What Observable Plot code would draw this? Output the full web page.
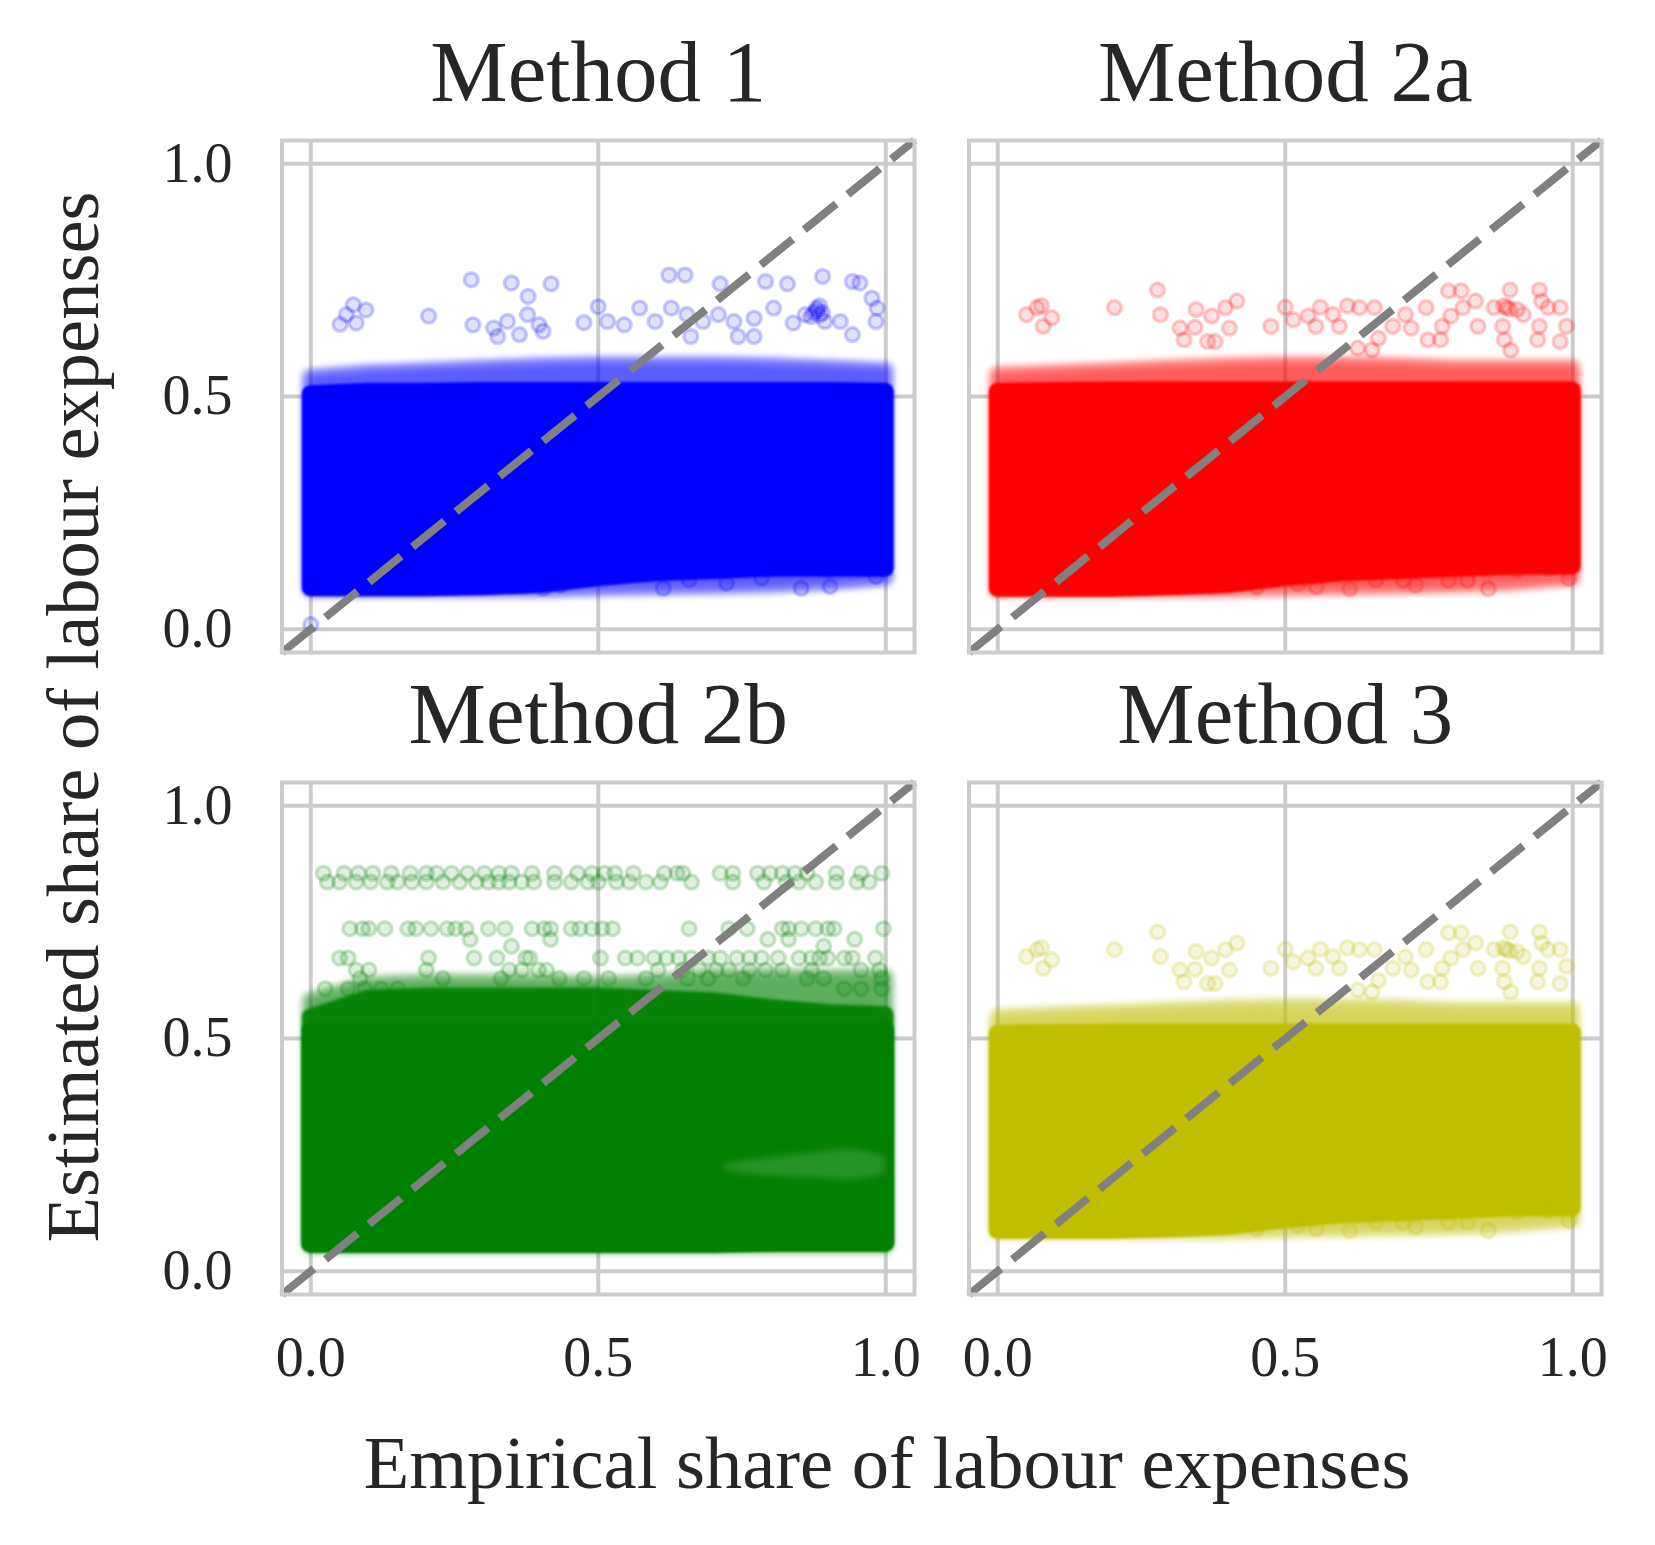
<!DOCTYPE html>
<html>
<head>
<meta charset="utf-8">
<script src="https://cdn.jsdelivr.net/npm/d3@7"></script>
<script src="https://cdn.jsdelivr.net/npm/@observablehq/plot@0.6"></script>
<style>
  html, body { margin: 0; padding: 0; background: #ffffff; }
</style>
</head>
<body>
<div id="chart"></div>
<script>
// ---------------- data ----------------
const titles = ["Method 1", "Method 2a", "Method 2b", "Method 3"];
const colors = ["#0000ff", "#ff0000", "#008000", "#bfbf00"];
const panelCol = [0, 1, 0, 1];
const panelRow = [0, 0, 1, 1];
const tickValues = [0, 0.5, 1];
const xLabel = "Empirical share of labour expenses";
const yLabel = "Estimated share of labour expenses";

// dense cloud envelope (point centres) sampled along the empirical share
const envX = [0, 0.1, 0.2, 0.3, 0.4, 0.5, 0.6, 0.7, 0.8, 0.9, 1.0];

const m1CoreLow    = [0.088, 0.088, 0.088, 0.090, 0.095, 0.110, 0.120, 0.125, 0.130, 0.130, 0.130];
const m1CoreHigh   = [0.505, 0.510, 0.510, 0.512, 0.512, 0.512, 0.512, 0.512, 0.512, 0.512, 0.510];
const m1FringeLow  = [0.085, 0.085, 0.085, 0.085, 0.085, 0.088, 0.090, 0.092, 0.095, 0.100, 0.110];
const m1FringeHigh = [0.540, 0.550, 0.555, 0.560, 0.565, 0.567, 0.567, 0.567, 0.565, 0.560, 0.555];

const m2aCoreLow    = [0.087, 0.087, 0.087, 0.090, 0.095, 0.110, 0.120, 0.125, 0.130, 0.135, 0.135];
const m2aCoreHigh   = [0.510, 0.512, 0.513, 0.513, 0.513, 0.513, 0.513, 0.513, 0.513, 0.513, 0.513];
const m2aFringeLow  = [0.085, 0.085, 0.085, 0.085, 0.085, 0.088, 0.090, 0.092, 0.095, 0.100, 0.110];
const m2aFringeHigh = [0.545, 0.550, 0.555, 0.560, 0.565, 0.567, 0.567, 0.565, 0.560, 0.560, 0.560];

const m2bCoreLow    = [0.058, 0.058, 0.058, 0.058, 0.058, 0.058, 0.058, 0.058, 0.060, 0.060, 0.060];
const m2bCoreHigh   = [0.515, 0.517, 0.517, 0.517, 0.517, 0.517, 0.517, 0.517, 0.517, 0.517, 0.517];
const m2bMidHigh    = [0.545, 0.585, 0.590, 0.590, 0.590, 0.590, 0.585, 0.580, 0.565, 0.555, 0.550];
const m2bFringeLow  = [0.055, 0.055, 0.055, 0.055, 0.055, 0.055, 0.055, 0.055, 0.055, 0.055, 0.055];
const m2bFringeHigh = [0.580, 0.615, 0.620, 0.620, 0.620, 0.615, 0.620, 0.630, 0.630, 0.630, 0.630];
// sparser patch inside the green cloud (lower right)
const m2bSparseX    = [0.72, 0.80, 0.88, 0.94, 1.00];
const m2bSparseLow  = [0.215, 0.205, 0.200, 0.195, 0.210];
const m2bSparseHigh = [0.230, 0.245, 0.255, 0.262, 0.245];

const m3CoreLow    = [0.087, 0.087, 0.087, 0.090, 0.095, 0.110, 0.120, 0.125, 0.130, 0.135, 0.135];
const m3CoreHigh   = [0.510, 0.512, 0.513, 0.513, 0.513, 0.513, 0.513, 0.513, 0.513, 0.513, 0.513];
const m3FringeLow  = [0.085, 0.085, 0.085, 0.085, 0.085, 0.088, 0.090, 0.092, 0.095, 0.100, 0.110];
const m3FringeHigh = [0.545, 0.550, 0.555, 0.560, 0.565, 0.567, 0.567, 0.565, 0.560, 0.560, 0.560];

// isolated points [empirical, estimated]
const m1Outliers = [
  [0.279,0.751],[0.349,0.744],[0.418,0.742],[0.378,0.715],[0.074,0.697],[0.096,0.686],[0.062,0.676],
  [0.051,0.655],[0.079,0.658],[0.205,0.673],[0.282,0.654],[0.318,0.647],[0.342,0.661],[0.325,0.629],
  [0.363,0.633],[0.377,0.676],[0.397,0.654],[0.404,0.640],[0.475,0.659],[0.500,0.693],[0.516,0.661],
  [0.545,0.654],[0.623,0.761],[0.651,0.761],[0.712,0.742],[0.791,0.747],[0.829,0.742],[0.890,0.758],
  [0.942,0.747],[0.955,0.744],[0.572,0.690],[0.599,0.661],[0.627,0.690],[0.654,0.676],[0.682,0.661],
  [0.709,0.676],[0.736,0.661],[0.771,0.668],[0.805,0.690],[0.743,0.629],[0.771,0.629],[0.661,0.629],
  [0.860,0.676],[0.880,0.690],[0.894,0.661],[0.921,0.661],[0.942,0.633],[0.839,0.658],[0.976,0.711],
  [0.983,0.661],[0.875,0.680],[0.885,0.675],[0.880,0.685],[0.890,0.680],[0.870,0.672],[0.885,0.695],
  [0.985,0.690],[0.000,0.010],[0.613,0.088],[0.853,0.088],[0.658,0.106],[0.723,0.099],[0.784,0.110],
  [0.900,0.128],[0.983,0.113],[0.404,0.088],[0.435,0.095],[0.903,0.092]
];

const m2aOutliers = [
  [0.278,0.729],[0.203,0.691],[0.283,0.676],[0.050,0.676],[0.068,0.691],[0.076,0.695],[0.094,0.669],
  [0.079,0.651],[0.345,0.687],[0.372,0.673],[0.396,0.691],[0.416,0.705],[0.317,0.647],[0.343,0.649],
  [0.403,0.647],[0.324,0.622],[0.365,0.618],[0.378,0.618],[0.475,0.651],[0.500,0.692],[0.514,0.665],
  [0.540,0.673],[0.553,0.651],[0.561,0.692],[0.583,0.676],[0.594,0.651],[0.608,0.695],[0.629,0.691],
  [0.655,0.691],[0.662,0.625],[0.626,0.604],[0.651,0.600],[0.687,0.651],[0.709,0.676],[0.719,0.647],
  [0.745,0.691],[0.748,0.622],[0.770,0.622],[0.773,0.651],[0.784,0.727],[0.806,0.727],[0.788,0.673],
  [0.809,0.691],[0.831,0.705],[0.835,0.651],[0.863,0.691],[0.885,0.691],[0.880,0.695],[0.890,0.688],
  [0.903,0.687],[0.891,0.729],[0.942,0.729],[0.946,0.705],[0.957,0.691],[0.978,0.691],[0.878,0.651],
  [0.942,0.651],[0.939,0.622],[0.978,0.618],[0.989,0.651],[0.881,0.622],[0.892,0.600],[0.914,0.676],
  [0.612,0.087],[0.658,0.105],[0.727,0.095],[0.705,0.105],[0.784,0.105],[0.817,0.105],[0.853,0.087],
  [0.903,0.127],[0.993,0.109],[0.957,0.131],[0.554,0.091],[0.522,0.098],[0.450,0.091]
];

const m2bOutliers = [
  // band near 0.855
  [0.022,0.855],[0.058,0.855],[0.083,0.855],[0.108,0.855],[0.140,0.855],[0.173,0.855],[0.201,0.855],
  [0.219,0.855],[0.245,0.855],[0.273,0.855],[0.302,0.855],[0.327,0.855],[0.349,0.855],[0.385,0.855],
  [0.424,0.855],[0.464,0.855],[0.489,0.855],[0.511,0.855],[0.529,0.855],[0.561,0.855],[0.615,0.855],
  [0.637,0.855],[0.647,0.855],[0.712,0.855],[0.734,0.855],[0.777,0.855],[0.799,0.855],[0.820,0.855],
  [0.842,0.855],[0.863,0.855],[0.914,0.855],[0.957,0.855],[0.993,0.855],
  // band near 0.836
  [0.029,0.836],[0.050,0.836],[0.079,0.836],[0.104,0.836],[0.133,0.836],[0.151,0.836],[0.176,0.836],
  [0.201,0.836],[0.230,0.836],[0.259,0.836],[0.288,0.836],[0.309,0.836],[0.327,0.836],[0.345,0.836],
  [0.367,0.836],[0.388,0.836],[0.424,0.836],[0.453,0.836],[0.482,0.836],[0.500,0.836],[0.532,0.836],
  [0.554,0.836],[0.583,0.836],[0.608,0.836],[0.662,0.836],[0.734,0.836],[0.788,0.836],[0.827,0.836],
  [0.849,0.836],[0.878,0.836],[0.914,0.836],[0.950,0.836],[0.971,0.836],
  // band near 0.736
  [0.068,0.736],[0.090,0.736],[0.101,0.736],[0.129,0.736],[0.169,0.736],[0.183,0.736],[0.209,0.736],
  [0.237,0.736],[0.252,0.736],[0.270,0.736],[0.309,0.736],[0.338,0.736],[0.385,0.736],[0.406,0.736],
  [0.417,0.736],[0.453,0.736],[0.468,0.736],[0.489,0.736],[0.507,0.736],[0.525,0.736],[0.658,0.736],
  [0.727,0.736],[0.759,0.736],[0.820,0.736],[0.831,0.736],[0.853,0.736],[0.878,0.736],[0.899,0.736],
  [0.910,0.736],[0.996,0.736],
  [0.277,0.713],[0.417,0.713],[0.795,0.713],[0.831,0.713],[0.946,0.713],[0.349,0.698],[0.892,0.698],
  // scattered rows 0.60 - 0.68
  [0.050,0.673],[0.065,0.673],[0.205,0.673],[0.284,0.673],[0.324,0.673],[0.374,0.673],[0.381,0.673],
  [0.504,0.673],[0.547,0.673],[0.568,0.673],[0.597,0.673],[0.619,0.673],[0.640,0.673],[0.662,0.673],
  [0.691,0.673],[0.712,0.673],[0.741,0.673],[0.763,0.673],[0.784,0.673],[0.813,0.673],[0.849,0.673],
  [0.871,0.673],[0.885,0.673],[0.899,0.673],[0.928,0.673],[0.942,0.673],[0.982,0.673],
  [0.079,0.647],[0.101,0.647],[0.201,0.647],[0.345,0.647],[0.367,0.647],[0.396,0.647],[0.410,0.647],
  [0.604,0.647],[0.647,0.647],[0.676,0.647],[0.705,0.647],[0.727,0.647],[0.763,0.647],[0.791,0.647],
  [0.820,0.647],[0.871,0.647],[0.957,0.647],[0.989,0.647],
  [0.086,0.629],[0.230,0.629],[0.331,0.629],[0.432,0.629],[0.475,0.629],[0.518,0.629],[0.583,0.629],
  [0.655,0.629],[0.691,0.629],[0.752,0.629],[0.863,0.629],[0.892,0.629],[0.993,0.629],
  [0.025,0.607],[0.065,0.607],[0.094,0.607],[0.122,0.607],[0.151,0.607],[0.928,0.607],[0.957,0.607],
  [0.993,0.607]
];

const m3Outliers = [
  [0.278,0.729],[0.203,0.691],[0.283,0.676],[0.050,0.676],[0.068,0.691],[0.076,0.695],[0.094,0.669],
  [0.079,0.651],[0.345,0.687],[0.372,0.673],[0.396,0.691],[0.416,0.705],[0.317,0.647],[0.343,0.649],
  [0.403,0.647],[0.324,0.622],[0.365,0.618],[0.378,0.618],[0.475,0.651],[0.500,0.692],[0.514,0.665],
  [0.540,0.673],[0.553,0.651],[0.561,0.692],[0.583,0.676],[0.594,0.651],[0.608,0.695],[0.629,0.691],
  [0.655,0.691],[0.662,0.625],[0.626,0.604],[0.651,0.600],[0.687,0.651],[0.709,0.676],[0.719,0.647],
  [0.745,0.691],[0.748,0.622],[0.770,0.622],[0.773,0.651],[0.784,0.727],[0.806,0.727],[0.788,0.673],
  [0.809,0.691],[0.831,0.705],[0.835,0.651],[0.863,0.691],[0.885,0.691],[0.880,0.695],[0.890,0.688],
  [0.903,0.687],[0.891,0.729],[0.942,0.729],[0.946,0.705],[0.957,0.691],[0.978,0.691],[0.878,0.651],
  [0.942,0.651],[0.939,0.622],[0.978,0.618],[0.989,0.655],[0.881,0.622],[0.892,0.600],[0.914,0.676],
  [0.612,0.087],[0.658,0.105],[0.727,0.095],[0.705,0.105],[0.784,0.105],[0.817,0.105],[0.853,0.087],
  [0.903,0.127],[0.993,0.109],[0.957,0.131],[0.554,0.091],[0.522,0.098],[0.450,0.091]
];

const identityLine = [[-0.05, -0.05], [1.05, 1.05]];

// ---------------- assemble ----------------
const panels = [
  {core: [m1CoreLow, m1CoreHigh], fringe: [m1FringeLow, m1FringeHigh], mid: null, outliers: m1Outliers},
  {core: [m2aCoreLow, m2aCoreHigh], fringe: [m2aFringeLow, m2aFringeHigh], mid: null, outliers: m2aOutliers},
  {core: [m2bCoreLow, m2bCoreHigh], fringe: [m2bFringeLow, m2bFringeHigh], mid: m2bMidHigh, outliers: m2bOutliers,
   sparse: {x: m2bSparseX, lo: m2bSparseLow, hi: m2bSparseHigh}},
  {core: [m3CoreLow, m3CoreHigh], fringe: [m3FringeLow, m3FringeHigh], mid: null, outliers: m3Outliers}
].map((p, i) => ({...p, title: titles[i], color: colors[i], col: panelCol[i], row: panelRow[i]}));

const gridColor = "#cccccc";
const textColor = "#262626";

const marks = [
  Plot.gridX({ticks: tickValues, stroke: gridColor, strokeOpacity: 1, strokeWidth: 4}),
  Plot.gridY({ticks: tickValues, stroke: gridColor, strokeOpacity: 1, strokeWidth: 4})
];

for (const p of panels) {
  const rows = envX.map((x, i) => ({
    col: p.col, row: p.row, x,
    cl: p.core[0][i], ch: p.core[1][i],
    fl: p.fringe[0][i], fh: p.fringe[1][i],
    mh: p.mid ? p.mid[i] : null
  }));
  const common = {x: "x", fx: "col", fy: "row", fill: p.color, stroke: p.color,
                  strokeWidth: 17, strokeLinejoin: "round", curve: "linear"};
  // sparse fringe: outer and inner halo
  marks.push(Plot.areaY(rows, {...common, y1: "fl", y2: "fh", opacity: 0.4, imageFilter: "blur(3px)"}));
  marks.push(Plot.areaY(rows, {...common, y1: "fl", y2: "fh", strokeWidth: 6, opacity: 0.4, imageFilter: "blur(4px)"}));
  if (p.mid) marks.push(Plot.areaY(rows, {...common, y1: "cl", y2: "mh", opacity: 0.92, imageFilter: "blur(1.5px)"}));
  marks.push(Plot.areaY(rows, {...common, y1: "cl", y2: "ch", opacity: 1, imageFilter: "blur(1px)"}));
  if (p.sparse) {
    const srows = p.sparse.x.map((x, i) => ({col: p.col, row: p.row, x, lo: p.sparse.lo[i], hi: p.sparse.hi[i]}));
    marks.push(Plot.areaY(srows, {x: "x", y1: "lo", y2: "hi", fx: "col", fy: "row", fill: "#ffffff",
      opacity: 0.15, curve: "natural", imageFilter: "blur(3px)"}));
  }
  const pts = p.outliers.map(([x, y]) => ({col: p.col, row: p.row, x, y}));
  marks.push(Plot.dot(pts, {x: "x", y: "y", fx: "col", fy: "row", r: 7,
    fill: p.color, fillOpacity: 0.12, stroke: p.color, strokeOpacity: 0.2, strokeWidth: 3.5}));
}

marks.push(
  Plot.line(identityLine, {stroke: "#808080", strokeWidth: 8, strokeDasharray: "41,15", strokeLinecap: "butt"}),
  Plot.frame({stroke: gridColor, strokeWidth: 4}),
  Plot.text(panels, {fx: "col", fy: "row", text: "title", frameAnchor: "top", dy: -67,
    lineAnchor: "middle", fontSize: 87, fill: textColor}),
  Plot.axisX({ticks: tickValues, tickFormat: d3.format(".1f"), tickSize: 0, tickPadding: 42,
    fontSize: 56, fill: textColor, label: null, facetAnchor: "bottom"}),
  Plot.axisY({ticks: tickValues, tickFormat: d3.format(".1f"), tickSize: 0, tickPadding: 49.5,
    fontSize: 56, fill: textColor, label: null, facetAnchor: "left"})
);

const svg = Plot.plot({
  width: 1655,
  height: 1545,
  marginLeft: 281.5,
  marginRight: 54,
  marginTop: 140,
  marginBottom: 251,
  style: {fontFamily: "'Liberation Serif', 'DejaVu Serif', serif", background: "#ffffff", color: textColor},
  x: {domain: [-0.05, 1.05], axis: null},
  y: {domain: [-0.05, 1.05], axis: null},
  fx: {domain: [0, 1], paddingInner: 0.0793, paddingOuter: 0, round: false, axis: null},
  fy: {domain: [0, 1], paddingInner: 0.2025, paddingOuter: 0, round: false, axis: null},
  marks
});

const s = d3.select(svg);
s.append("text")
  .attr("x", 887).attr("y", 1488)
  .attr("text-anchor", "middle")
  .attr("font-size", 74.5)
  .attr("fill", textColor)
  .text(xLabel);
s.append("text")
  .attr("transform", "translate(98,717) rotate(-90)")
  .attr("text-anchor", "middle")
  .attr("font-size", 74.5)
  .attr("fill", textColor)
  .text(yLabel);

document.getElementById("chart").appendChild(svg);
</script>
</body>
</html>
